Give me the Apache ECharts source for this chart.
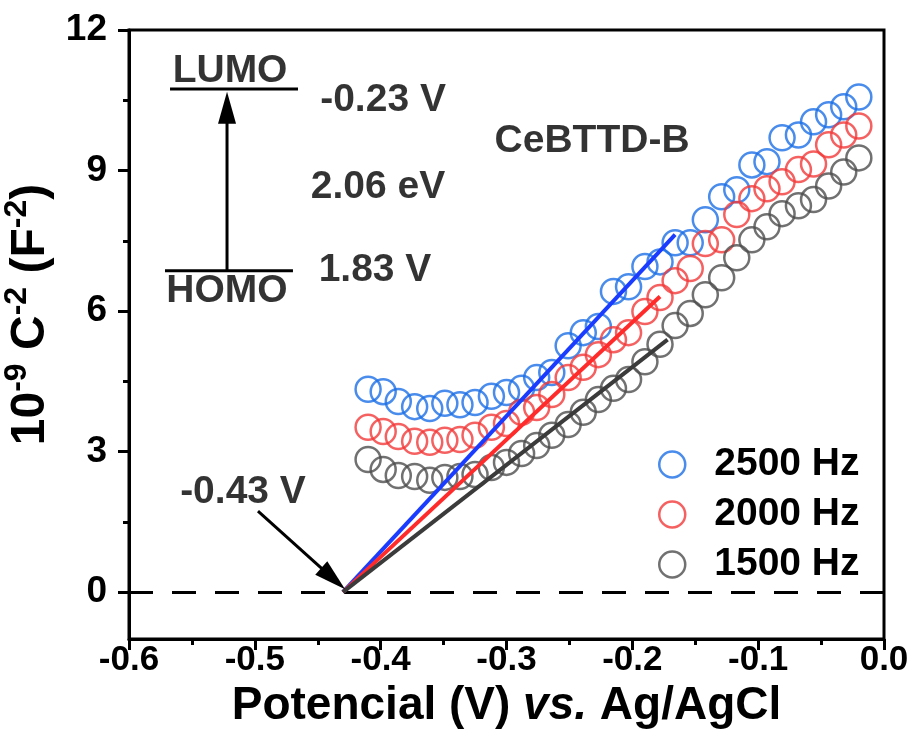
<!DOCTYPE html>
<html>
<head>
<meta charset="utf-8">
<script src="https://cdn.jsdelivr.net/npm/echarts@6/dist/echarts.min.js"></script>
<style>
  html, body { margin: 0; padding: 0; background: #fff; }
  #chart { width: 920px; height: 753px; }
</style>
</head>
<body>
<div id="chart"></div>
<script>
// Mott-Schottky data: potential (V vs. Ag/AgCl) and 10^-9 C^-2 (F^-2)
const potential = [-0.410, -0.398, -0.386, -0.373, -0.361, -0.349, -0.337, -0.325, -0.312, -0.300,
  -0.288, -0.276, -0.264, -0.251, -0.239, -0.227, -0.215, -0.203, -0.190, -0.178,
  -0.166, -0.154, -0.142, -0.129, -0.117, -0.105, -0.093, -0.081, -0.068, -0.056,
  -0.044, -0.032, -0.020];
const c2500 = [4.33, 4.28, 4.07, 3.96, 3.92, 4.03, 4.00, 4.05, 4.18, 4.26,
  4.35, 4.58, 4.69, 5.26, 5.54, 5.67, 6.42, 6.52, 6.95, 7.05,
  7.46, 7.46, 7.95, 8.44, 8.59, 9.12, 9.19, 9.70, 9.76, 10.04,
  10.19, 10.36, 10.57];
const c2000 = [3.52, 3.43, 3.32, 3.22, 3.20, 3.24, 3.26, 3.35, 3.52, 3.60,
  3.84, 3.94, 4.22, 4.58, 4.80, 5.07, 5.39, 5.54, 5.99, 6.29,
  6.65, 6.91, 7.44, 7.52, 8.06, 8.40, 8.61, 8.76, 9.02, 9.14,
  9.55, 9.76, 9.95];
const c1500 = [2.83, 2.62, 2.49, 2.47, 2.39, 2.45, 2.47, 2.51, 2.66, 2.77,
  2.96, 3.13, 3.35, 3.58, 3.84, 4.11, 4.35, 4.54, 4.92, 5.29,
  5.69, 5.95, 6.35, 6.71, 7.14, 7.52, 7.80, 8.08, 8.25, 8.38,
  8.67, 8.97, 9.27];

// Linear fits extrapolated to the flat-band potential
const flatBand = [-0.43, 0];
const fit2500End = [-0.166, 7.63];
const fit2000End = [-0.178, 6.31];
const fit1500End = [-0.172, 5.39];

const seriesNames = ['2500 Hz', '2000 Hz', '1500 Hz'];
const yTicks = [0, 3, 6, 9, 12];
const yMinorTicks = [1.5, 4.5, 7.5, 10.5];

// Band diagram annotation (data units)
const lumoLevel = [[-0.5674, 10.74], [-0.4657, 10.74]];
const homoLevel = [[-0.5714, 6.86], [-0.4697, 6.86]];
// arrows: [x0, y0, x1, y1], head at (x1, y1)
const arrows = [
  [-0.5221, 6.86, -0.5221, 10.68],
  [-0.4975, 1.73, -0.4283, 0.06]
];
const notes = [
  [-0.5197, 11.13, 'LUMO'],
  [-0.5221, 6.42, 'HOMO'],
  [-0.3981, 10.51, '-0.23 V'],
  [-0.4021, 8.65, '2.06 eV'],
  [-0.4045, 6.88, '1.83 V'],
  [-0.232, 9.63, 'CeBTTD-B'],
  [-0.5094, 2.13, '-0.43 V']
];

const FONT = '"Liberation Sans", Arial, sans-serif';
const circleColors = ['#1b6fe6', '#f33a3a', '#4d4d4d'];
const fitColors = ['#1a3cff', '#ff2b2b', '#3b3b3b'];

const pair = (xs, ys) => xs.map((x, i) => [x, ys[i]]);

function scatter(name, ys, color) {
  return {
    name: name,
    type: 'scatter',
    data: pair(potential, ys),
    symbol: 'circle',
    symbolSize: 25,
    itemStyle: { color: 'rgba(255,255,255,0)', borderColor: color, borderWidth: 2.5 },
    emphasis: { disabled: true },
    z: 3
  };
}

function fitLine(end, color) {
  return {
    type: 'line',
    data: [flatBand, end],
    symbol: 'none',
    lineStyle: { color: color, width: 4 },
    z: 5
  };
}

function blackLine(pts, width) {
  return {
    type: 'line',
    data: pts,
    symbol: 'none',
    lineStyle: { color: '#000', width: width },
    z: 6
  };
}

// arrow shaft plus filled triangular head, placed through the axes
function renderArrow(params, api) {
  const p0 = api.coord([api.value(0), api.value(1)]);
  const p1 = api.coord([api.value(2), api.value(3)]);
  const dx = p1[0] - p0[0], dy = p1[1] - p0[1];
  const len = Math.sqrt(dx * dx + dy * dy);
  const ux = dx / len, uy = dy / len;
  const headLen = 32, halfW = 9;
  const bx = p1[0] - ux * headLen, by = p1[1] - uy * headLen;
  return {
    type: 'group',
    children: [
      {
        type: 'line',
        shape: { x1: p0[0], y1: p0[1], x2: bx + ux * 2, y2: by + uy * 2 },
        style: { stroke: '#000', lineWidth: 3 }
      },
      {
        type: 'polygon',
        shape: { points: [[p1[0], p1[1]], [bx - uy * halfW, by + ux * halfW], [bx + uy * halfW, by - ux * halfW]] },
        style: { fill: '#000' }
      }
    ]
  };
}

const chart = echarts.init(document.getElementById('chart'));
chart.setOption({
  animation: false,
  backgroundColor: '#fff',
  grid: {
    left: 129, right: 36, top: 30, bottom: 114,
    outerBoundsMode: 'none',
    containLabel: false,
    show: true, borderColor: '#000', borderWidth: 3, backgroundColor: 'transparent'
  },
  legend: {
    data: seriesNames.map((n, i) => ({
      name: n,
      icon: 'circle',
      itemStyle: { color: 'rgba(255,255,255,0)', borderColor: circleColors[i], borderWidth: 2.5 }
    })),
    orient: 'vertical',
    left: 653, top: 440,
    itemWidth: 26, itemHeight: 26, itemGap: 11,
    textStyle: { fontFamily: FONT, fontWeight: 'bold', fontSize: 39, color: '#000', padding: [0, 0, 0, 24] }
  },
  xAxis: {
    type: 'value',
    min: -0.6, max: 0, interval: 0.1,
    name: 'Potencial (V) {i|vs.} Ag/AgCl',
    nameLocation: 'middle', nameGap: 36,
    nameTextStyle: {
      fontFamily: FONT, fontWeight: 'bold', fontSize: 46, color: '#000',
      rich: { i: { fontFamily: FONT, fontWeight: 'bold', fontStyle: 'italic', fontSize: 46, color: '#000' } }
    },
    axisLine: { show: true, onZero: false, lineStyle: { color: '#000', width: 3 } },
    axisTick: { show: true, inside: false, length: 11, lineStyle: { color: '#000', width: 3 } },
    minorTick: { show: true, splitNumber: 2, length: 6, lineStyle: { color: '#000', width: 3 } },
    axisLabel: {
      fontFamily: FONT, fontWeight: 'bold', fontSize: 35, color: '#000', margin: 4,
      formatter: v => v.toFixed(1)
    },
    splitLine: { show: false }
  },
  yAxis: [{
    type: 'value',
    position: 'left',
    min: -1, max: 12,
    name: '{a|10}{s|-9}{a| C}{s|-2}{a| (F}{s|-2}{a|)}',
    nameLocation: 'middle', nameGap: 66,
    nameTextStyle: {
      padding: [0, 0, 0, 40],
      rich: {
        a: { fontFamily: FONT, fontWeight: 'bold', fontSize: 48, color: '#000', lineHeight: 54, verticalAlign: 'bottom' },
        s: { fontFamily: FONT, fontWeight: 'bold', fontSize: 32, color: '#000', lineHeight: 54, verticalAlign: 'top' }
      }
    },
    axisLine: { show: true, onZero: false, lineStyle: { color: '#000', width: 3 } },
    axisTick: { show: true, inside: false, length: 11, customValues: yTicks, lineStyle: { color: '#000', width: 3 } },
    axisLabel: {
      fontFamily: FONT, fontWeight: 'bold', fontSize: 37, color: '#000', margin: 22,
      customValues: yTicks
    },
    splitLine: { show: false }
  }, {
    // shorter minor ticks on the same left edge
    type: 'value',
    position: 'left',
    offset: 0,
    min: -1, max: 12,
    axisLine: { show: false, onZero: false },
    axisTick: { show: true, inside: false, length: 6, customValues: yMinorTicks, lineStyle: { color: '#000', width: 3 } },
    axisLabel: { show: false },
    splitLine: { show: false }
  }],
  series: [
    scatter(seriesNames[0], c2500, circleColors[0]),
    scatter(seriesNames[1], c2000, circleColors[1]),
    scatter(seriesNames[2], c1500, circleColors[2]),
    fitLine(fit2500End, fitColors[0]),
    fitLine(fit2000End, fitColors[1]),
    fitLine(fit1500End, fitColors[2]),
    blackLine(lumoLevel, 3),
    blackLine(homoLevel, 3),
    {
      type: 'custom',
      data: arrows,
      renderItem: renderArrow,
      silent: true,
      z: 6
    },
    {
      type: 'line',
      data: [],
      symbol: 'none',
      markLine: {
        silent: true,
        animation: false,
        symbol: ['none', 'none'],
        label: { show: false },
        lineStyle: { color: '#000', width: 3, type: [24, 19] },
        data: [{ yAxis: 0 }]
      },
      z: 2
    },
    {
      type: 'scatter',
      data: notes,
      symbolSize: 0,
      silent: true,
      label: {
        show: true,
        position: 'inside',
        formatter: p => p.data[2],
        fontFamily: FONT, fontWeight: 'bold', fontSize: 39, color: '#000'
      },
      z: 7
    }
  ]
});
</script>
</body>
</html>
